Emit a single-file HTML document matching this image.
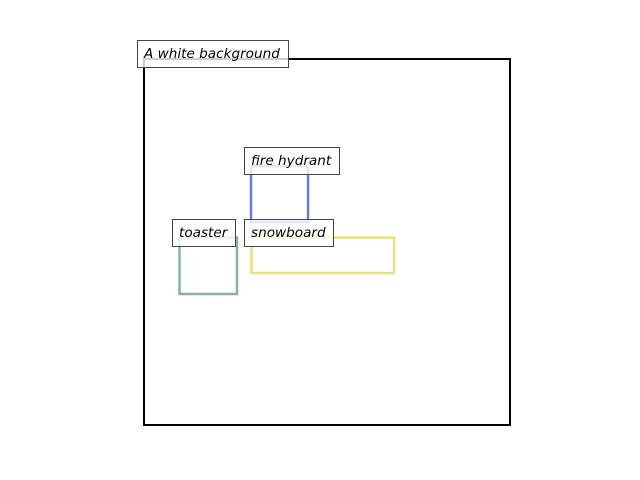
<!DOCTYPE html>
<html><head><meta charset="utf-8"><style>
html,body{margin:0;padding:0;background:#fff;}
svg{display:block;}
text{font-family:"DejaVu Sans","Liberation Sans",sans-serif;font-style:italic;font-size:13.6px;fill:#000;}
</style></head><body>
<svg width="640" height="480" viewBox="0 0 640 480" xmlns="http://www.w3.org/2000/svg">
<rect x="144" y="59" width="366" height="366" fill="none" stroke="#000" stroke-width="2"/>
<rect x="251" y="166" width="57" height="56" fill="none" stroke="#6a7ae6" stroke-width="2.5"/>
<rect x="179.5" y="237.5" width="57.5" height="56.5" fill="none" stroke="#86b0a8" stroke-width="2.5"/>
<rect x="251.5" y="237.5" width="142.5" height="35.5" fill="none" stroke="#e8e07a" stroke-width="2.5"/>
<g fill="#fff" fill-opacity="0.8" stroke="#444" stroke-width="1">
<rect x="137.5" y="40.5" width="151" height="27"/>
<rect x="244.5" y="147.5" width="95" height="27"/>
<rect x="172.5" y="219.5" width="63" height="27"/>
<rect x="244.5" y="219.5" width="89" height="27"/>
</g>
<text x="144" y="58">A white background</text>
<text x="251" y="165">fire hydrant</text>
<text x="179" y="237">toaster</text>
<text x="251" y="237">snowboard</text>
</svg>
</body></html>
